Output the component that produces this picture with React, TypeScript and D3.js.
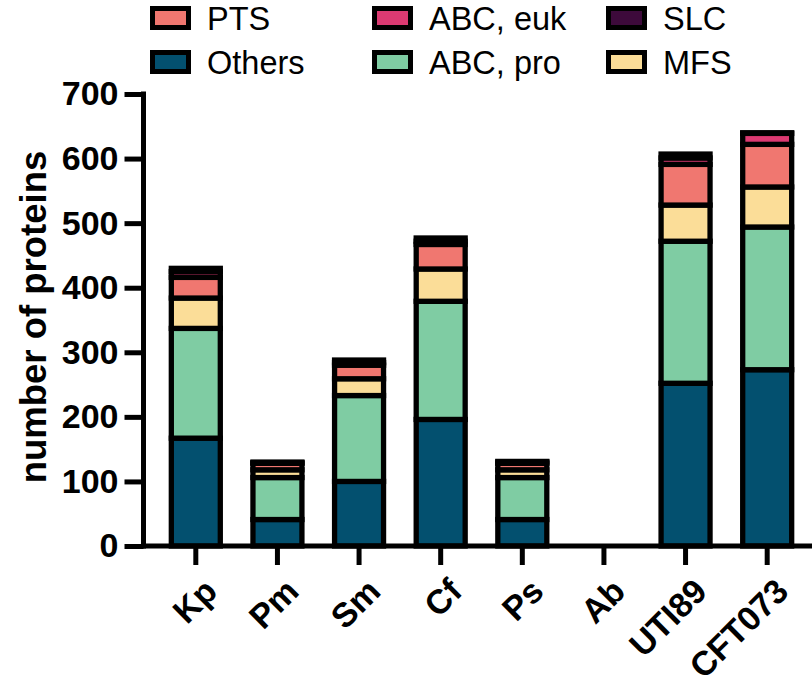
import React, { useEffect, useRef } from 'react';
import * as d3 from 'd3';

const categories = ['Kp', 'Pm', 'Sm', 'Cf', 'Ps', 'Ab', 'UTI89', 'CFT073'];
const others = [167, 41, 100, 196, 41, 0, 252, 273];
const abcPro = [170, 65, 133, 183, 65, 0, 220, 221];
const mfs = [47, 12, 26, 50, 12, 0, 56, 62];
const pts = [32, 10, 21, 38, 10, 0, 63, 66];
const abcEuk = [9, 1, 4, 5, 2, 0, 10, 17];
const slc = [5, 1, 4, 5, 1, 0, 6, 1];
const yTicks = [0, 100, 200, 300, 400, 500, 600, 700];

const seriesKeys = ['Others', 'ABC, pro', 'MFS', 'PTS', 'ABC, euk', 'SLC'];
const seriesValues = [others, abcPro, mfs, pts, abcEuk, slc];
const colors = ['#03506f', '#7fcca3', '#fbdd98', '#f07770', '#dc3a72', '#3d0a3b'];
// legend layout: row 1 then row 2
const legendRows = [
  ['PTS', 'ABC, euk', 'SLC'],
  ['Others', 'ABC, pro', 'MFS'],
];

const FONT = "Arial, 'Liberation Sans', sans-serif";

const App = () => {
  const ref = useRef<SVGSVGElement>(null);

  useEffect(() => {
    document.body.style.margin = '0';
    const svg = d3.select(ref.current);
    svg.selectAll('*').remove();

    const width = 812;
    const height = 685;
    const axisX = 143.5;
    const sw = 5.3;

    const table = categories.map((c, i) => {
      const row: any = { name: c };
      seriesKeys.forEach((k, j) => (row[k] = seriesValues[j][i]));
      return row;
    });

    const x = d3
      .scaleBand()
      .domain(categories)
      .range([155, 808])
      .paddingInner(0.4)
      .paddingOuter(0.2);
    const y = d3.scaleLinear().domain([0, 700]).range([546, 94]);
    const color = d3.scaleOrdinal<string>().domain(seriesKeys).range(colors);

    const stacked = d3.stack().keys(seriesKeys)(table);

    const g = svg.append('g');

    g.selectAll('g.series')
      .data(stacked)
      .enter()
      .append('g')
      .attr('class', 'series')
      .attr('fill', (d) => color(d.key))
      .selectAll('rect')
      .data((d) => d)
      .enter()
      .append('rect')
      .attr('x', (d: any) => x(d.data.name)!)
      .attr('width', x.bandwidth())
      .attr('y', (d) => y(d[1]))
      .attr('height', (d) => y(d[0]) - y(d[1]))
      .attr('stroke', '#000')
      .attr('stroke-width', sw);

    // y axis
    const yAxis = g
      .append('g')
      .attr('transform', `translate(${axisX},0)`)
      .call(d3.axisLeft(y).tickValues(yTicks).tickSize(19).tickSizeOuter(0).tickPadding(6));
    yAxis.select('.domain').remove();
    yAxis.selectAll('line').attr('stroke', '#000').attr('stroke-width', 5);
    yAxis
      .selectAll('text')
      .attr('font-family', FONT)
      .attr('font-size', 34)
      .attr('font-weight', 700)
      .attr('fill', '#000');
    g.append('line')
      .attr('x1', axisX)
      .attr('x2', axisX)
      .attr('y1', y(700) - 2.5)
      .attr('y2', y(0) + 2.5)
      .attr('stroke', '#000')
      .attr('stroke-width', 5);

    // x axis
    const xAxis = g
      .append('g')
      .attr('transform', `translate(0,${y(0)})`)
      .call(d3.axisBottom(x).tickSize(19).tickSizeOuter(0));
    xAxis.select('.domain').remove();
    xAxis.selectAll('line').attr('stroke', '#000').attr('stroke-width', 5);
    xAxis
      .selectAll('text')
      .attr('font-family', FONT)
      .attr('font-size', 34)
      .attr('font-weight', 700)
      .attr('fill', '#000')
      .attr('text-anchor', 'end')
      .attr('y', 0)
      .attr('dy', '0.72em')
      .attr('transform', 'translate(6,30) rotate(-45)');
    g.append('line')
      .attr('x1', axisX - 2.5)
      .attr('x2', width)
      .attr('y1', y(0))
      .attr('y2', y(0))
      .attr('stroke', '#000')
      .attr('stroke-width', 5);

    // y title
    g.append('text')
      .attr('transform', `translate(46,${(y(0) + y(700)) / 2 - 3}) rotate(-90)`)
      .attr('text-anchor', 'middle')
      .attr('font-family', FONT)
      .attr('font-size', 36.5)
      .attr('font-weight', 700)
      .text('number of proteins');

    // legend
    const colX = [150, 372, 606];
    const rowY = [18, 62];
    legendRows.forEach((row, r) => {
      row.forEach((name, c) => {
        const lg = g.append('g').attr('transform', `translate(${colX[c]},${rowY[r]})`);
        lg.append('rect')
          .attr('x', 2.5)
          .attr('y', -9.5)
          .attr('width', 36)
          .attr('height', 19)
          .attr('fill', color(name))
          .attr('stroke', '#000')
          .attr('stroke-width', 5);
        lg.append('text')
          .attr('x', 57)
          .attr('y', 0)
          .attr('dy', '0.36em')
          .attr('font-family', FONT)
          .attr('font-size', 32.5)
          .text(name);
      });
    });

    svg.attr('width', width).attr('height', height);
  }, []);

  return <svg ref={ref} width={812} height={685} style={{ display: 'block', background: '#fff' }} />;
};

export default App;
